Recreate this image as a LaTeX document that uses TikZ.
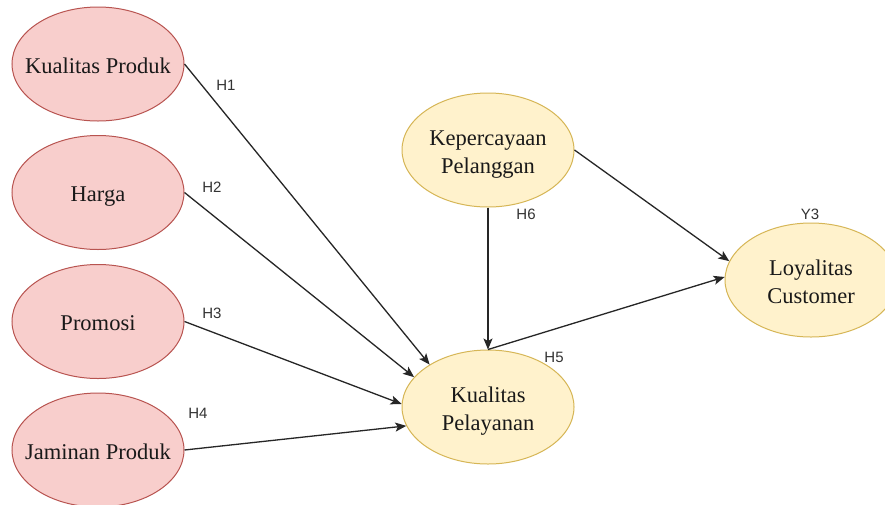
\documentclass[tikz,border=0pt]{standalone}
\usepackage{fontspec}
\setmainfont{Liberation Serif}
\newfontfamily\labelfont{Liberation Sans}
\usetikzlibrary{shapes.geometric,arrows.meta}
\definecolor{redfill}{HTML}{F8CECC}
\definecolor{redline}{HTML}{B85450}
\definecolor{yelfill}{HTML}{FFF2CC}
\definecolor{yelline}{HTML}{D6B656}
\newcommand{\ctrtext}[1]{\makebox[0pt][c]{\raisebox{-3.5pt}[\height][\depth]{\begin{tabular}{@{}c@{}}#1\end{tabular}}}}
\tikzset{
  varnode/.style={ellipse, minimum width=172pt, minimum height=114pt, inner sep=0pt,
    line width=1pt, font=\fontsize{22.5}{28}\selectfont, text=black!90},
  redvar/.style={varnode, fill=redfill, draw=redline},
  yelvar/.style={varnode, fill=yelfill, draw=yelline},
  link/.style={line width=1.3pt, draw=black!85, -{Stealth[length=11pt,width=9pt,inset=2.5pt]}},
  hlabel/.style={font=\labelfont\fontsize{15}{18}\selectfont, text=black!80, inner sep=0pt}
}
\begin{document}
\begin{tikzpicture}[x=1pt,y=-1pt]
\clip (0,0) rectangle (885,504);
\fill[white] (0,0) rectangle (885,504);
\node[redvar] (kp) at (98,64) {\ctrtext{Kualitas Produk}};
\node[redvar] (hg) at (98,192.5) {\ctrtext{Harga}};
\node[redvar] (pr) at (98,321.5) {\ctrtext{Promosi}};
\node[redvar] (jp) at (98,450) {\ctrtext{Jaminan Produk}};
\node[yelvar] (kep) at (488,150) {\ctrtext{Kepercayaan\\Pelanggan}};
\node[yelvar] (kpel) at (488,407) {\ctrtext{Kualitas\\Pelayanan}};
\node[yelvar] (loy) at (811,280) {\ctrtext{Loyalitas\\Customer}};
\draw[link] (kp.east) -- (kpel.144);
\draw[link] (hg.east) -- (kpel.158);
\draw[link] (pr.east) -- (kpel.178);
\draw[link] (jp.east) -- (kpel.193);
\draw[link] (kep.south) -- (kpel.north);
\draw[link] (kpel.north) -- (loy.178);
\draw[link] (kep.east) -- (loy.167);
\node[hlabel] (h1) at (226,85) {H1};
\node[hlabel] (h2) at (212,187) {H2};
\node[hlabel] (h3) at (212,313) {H3};
\node[hlabel] (h4) at (198,413) {H4};
\node[hlabel] (h5) at (554,357) {H5};
\node[hlabel] (h6) at (526,214) {H6};
\node[hlabel] (y3) at (810,214) {Y3};
\end{tikzpicture}
\end{document}
